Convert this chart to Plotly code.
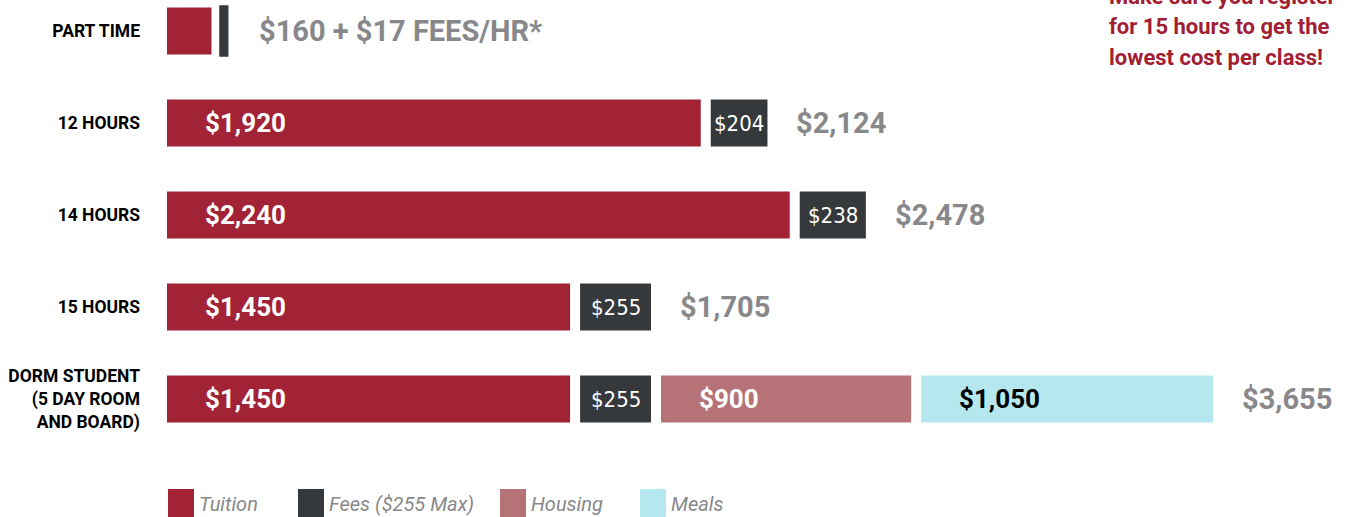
import plotly.graph_objects as go

# Cost breakdown per enrollment type
rows = ["PART TIME", "12 HOURS", "14 HOURS", "15 HOURS",
        "DORM STUDENT<br>(5 DAY ROOM<br>AND BOARD)"]
tuition = [160, 1920, 2240, 1450, 1450]
fees = [17, 204, 238, 255, 255]
housing = [0, 0, 0, 0, 900]
meals = [0, 0, 0, 0, 1050]
totals = [None, 2124, 2478, 1705, 3655]
part_time_note = "$160 + $17 FEES/HR*"
callout_lines = ["Make sure you register", "for 15 hours to get the",
                 "lowest cost per class!"]

legend_names = ["Tuition", "Fees ($255 Max)", "Housing", "Meals"]

C_TUITION = "#A22236"
C_FEES = "#35393C"
C_HOUSING = "#B57378"
C_MEALS = "#B4E8EE"
C_GRAY = "#88888B"
C_RED_TEXT = "#A11E35"

W, H = 1346, 517
LEFT = 167
PX_PER_DOLLAR = 0.278
GAP = 10 / PX_PER_DOLLAR          # white space between segments, in dollars
XMAX = (W - LEFT) / PX_PER_DOLLAR

COND = "DejaVu Sans Condensed, Roboto, sans-serif"
BODY = "Roboto, sans-serif"

def money(v):
    return "${:,.0f}".format(v)

# segment starting positions
t_base = [0] * len(rows)
f_base = [t + GAP for t in tuition]
h_base = [f_base[i] + fees[i] + GAP for i in range(len(rows))]
m_base = [h_base[i] + housing[i] + GAP for i in range(len(rows))]
ends = []
for i in range(len(rows)):
    e = f_base[i] + fees[i]
    if housing[i]:
        e = h_base[i] + housing[i]
    if meals[i]:
        e = m_base[i] + meals[i]
    ends.append(e)

fig = go.Figure()
BW = 0.51

def add_seg(vals, bases, color, line_w=None):
    xs, ys, bs, lw = [], [], [], []
    for i, v in enumerate(vals):
        if v:
            xs.append(v); ys.append(rows[i]); bs.append(bases[i])
            lw.append(line_w[i] if line_w else 0)
    fig.add_trace(go.Bar(
        x=xs, y=ys, base=bs, orientation="h", width=BW,
        marker=dict(color=color, line=dict(color=color, width=lw)),
        showlegend=False, hoverinfo="skip"))

add_seg(tuition, t_base, C_TUITION)
# the hourly fee bar gets an outline so it stays visible
add_seg(fees, f_base, C_FEES, line_w=[4.5, 0, 0, 0, 0])
add_seg(housing, h_base, C_HOUSING)
add_seg(meals, m_base, C_MEALS)

ann = []
for i, r in enumerate(rows):
    if i == 0:
        ann.append(dict(x=ends[i], y=r, text=part_time_note, xanchor="left",
                        xshift=31, showarrow=False,
                        font=dict(family=BODY, size=29, color=C_GRAY, weight="bold")))
        continue
    # tuition label
    ann.append(dict(x=t_base[i], y=r, text=money(tuition[i]), xanchor="left",
                    xshift=36, showarrow=False,
                    font=dict(family=BODY, size=26, color="white", weight="bold")))
    # fees label
    ann.append(dict(x=f_base[i] + fees[i] / 2, y=r, text=money(fees[i]),
                    xanchor="center", showarrow=False,
                    font=dict(family=COND, size=22, color="white")))
    if housing[i]:
        ann.append(dict(x=h_base[i], y=r, text=money(housing[i]), xanchor="left",
                        xshift=36, showarrow=False,
                        font=dict(family=BODY, size=26, color="white", weight="bold")))
    if meals[i]:
        ann.append(dict(x=m_base[i], y=r, text=money(meals[i]), xanchor="left",
                        xshift=36, showarrow=False,
                        font=dict(family=BODY, size=26, color="black", weight="bold")))
    ann.append(dict(x=ends[i], y=r, text=money(totals[i]), xanchor="left",
                    xshift=27, showarrow=False,
                    font=dict(family=BODY, size=29, color=C_GRAY, weight="bold")))

def px_x(p):
    return (p - LEFT) / (W - LEFT)

def px_y(p):
    return 1 - p / H

# callout, one line per annotation for tighter control of the leading
for k, line in enumerate(callout_lines):
    ann.append(dict(xref="paper", yref="paper", x=px_x(1107), y=px_y(-3 + 30 * k),
                    xanchor="left", yanchor="middle", align="left", showarrow=False,
                    text=line,
                    font=dict(family=BODY, size=22, color=C_RED_TEXT, weight="bold")))

# legend
shapes = []
leg_x = [168, 298, 500, 640]
leg_colors = [C_TUITION, C_FEES, C_HOUSING, C_MEALS]
for name, lx, col in zip(legend_names, leg_x, leg_colors):
    shapes.append(dict(type="rect", xref="paper", yref="paper",
                       x0=px_x(lx), x1=px_x(lx + 26), y0=px_y(517), y1=px_y(489),
                       fillcolor=col, line=dict(width=0)))
    ann.append(dict(xref="paper", yref="paper", x=px_x(lx + 29), y=px_y(504),
                    xanchor="left", yanchor="middle", showarrow=False, text=name,
                    font=dict(family=BODY, size=20, color=C_GRAY, style="italic")))

unit = 92.0
y_top = -31 / unit
y_bot = y_top + H / unit

fig.update_layout(
    width=W, height=H,
    margin=dict(l=LEFT, r=0, t=0, b=0, autoexpand=False),
    plot_bgcolor="white", paper_bgcolor="white",
    barmode="overlay",
    annotations=ann, shapes=shapes,
    xaxis=dict(range=[0, XMAX], visible=False, fixedrange=True),
    yaxis=dict(type="category", categoryorder="array", categoryarray=rows,
               range=[y_bot, y_top], showgrid=False, zeroline=False, ticks="",
               showline=False, ticklabelstandoff=26, automargin=False,
               tickfont=dict(family=BODY, size=17.5, color="black", weight="bold")),
)

fig.write_html("out.html")
